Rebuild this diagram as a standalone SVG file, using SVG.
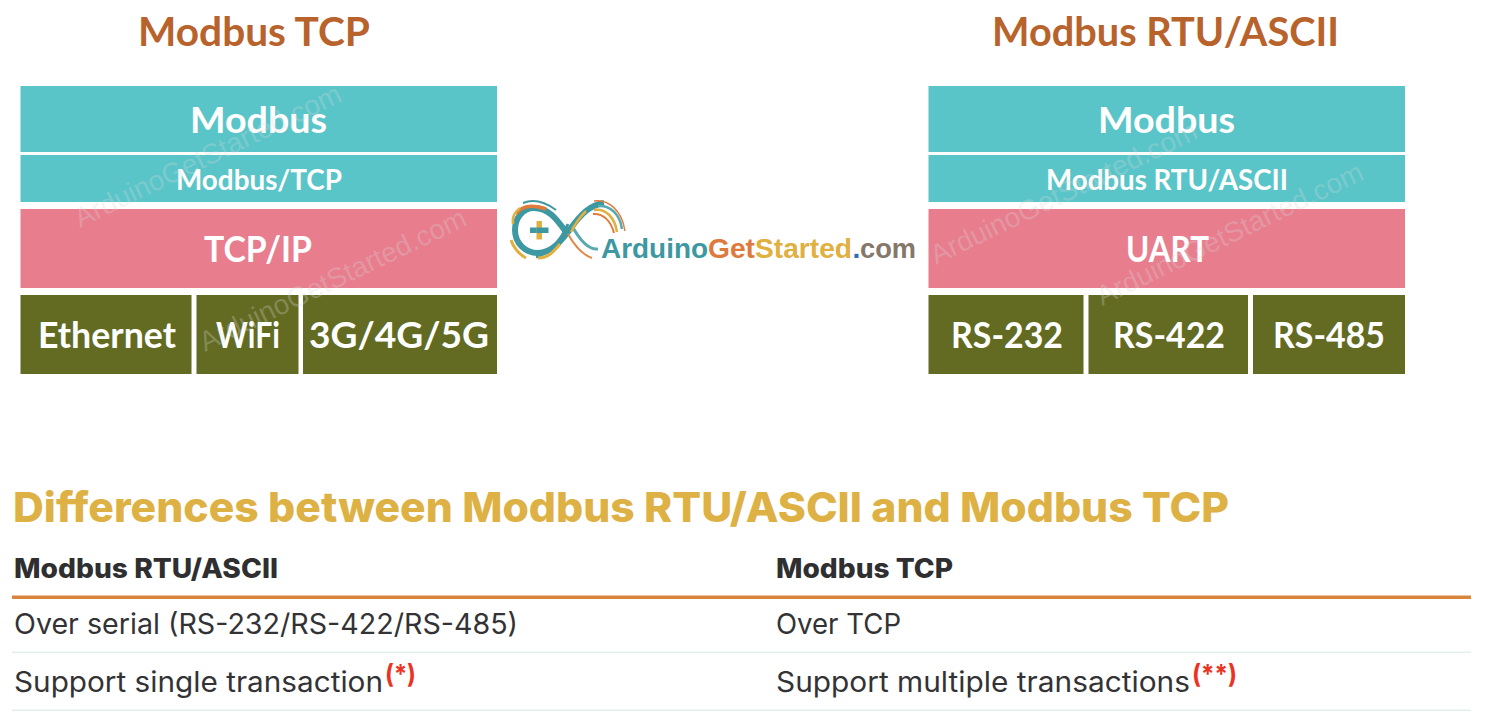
<svg xmlns="http://www.w3.org/2000/svg" width="1490" height="720" viewBox="0 0 1490 720">
<style>
.teal{fill:#5ac5c9}.pink{fill:#e87d8e}.olive{fill:#636b22}
.box{font-family:"Lato","Liberation Sans",sans-serif;font-weight:700;fill:#fff}
.title{font-family:"Lato","Liberation Sans",sans-serif;font-weight:700;fill:#b8622c;font-size:40px}
.wm{font-family:"Liberation Sans",Arial,sans-serif;font-size:28px;fill:#d9d9d9;fill-opacity:.28}
.page{font-family:"Inter","Liberation Sans",sans-serif;fill:#333336;font-size:28px;font-weight:400}
.th{font-weight:800;font-size:27px;fill:#2f2f31}
.h{font-weight:800;font-size:41px;fill:#deb144}
.sup{font-weight:700;font-size:26px;fill:#ec3323}
.logo{font-family:"Liberation Sans",Arial,sans-serif;font-weight:700;font-size:28px}
.arc{fill:none;stroke-linecap:butt}
</style>
<rect width="1490" height="720" fill="#fff"/>
<g id="title-tcp"><text class="title" x="138" y="46" textLength="232" lengthAdjust="spacingAndGlyphs">Modbus TCP</text></g>
<g id="title-rtu"><text class="title" x="992" y="46" textLength="347" lengthAdjust="spacingAndGlyphs">Modbus RTU/ASCII</text></g>

<g id="tcp-modbus"><rect class="teal" x="20.5" y="86" width="476.5" height="66"/><text class="box" font-size="36" x="190" y="133" textLength="137" lengthAdjust="spacingAndGlyphs">Modbus</text></g>
<g id="tcp-modbus-tcp"><rect class="teal" x="20.5" y="155" width="476.5" height="47"/><text class="box" font-size="28" x="176" y="190" textLength="166" lengthAdjust="spacingAndGlyphs">Modbus/TCP</text></g>
<g id="tcp-ip"><rect class="pink" x="20.5" y="209" width="476.5" height="79"/><text class="box" font-size="36" x="204" y="262" textLength="108" lengthAdjust="spacingAndGlyphs">TCP/IP</text></g>
<g id="tcp-ethernet"><rect class="olive" x="20.5" y="295" width="171" height="79"/><text class="box" font-size="36" x="38" y="348" textLength="138" lengthAdjust="spacingAndGlyphs">Ethernet</text></g>
<g id="tcp-wifi"><rect class="olive" x="196.5" y="295" width="102" height="79"/><text class="box" font-size="36" x="216" y="348" textLength="64" lengthAdjust="spacingAndGlyphs">WiFi</text></g>
<g id="tcp-3g"><rect class="olive" x="303" y="295" width="194" height="79"/><text class="box" font-size="36" x="309" y="348" textLength="180" lengthAdjust="spacingAndGlyphs">3G/4G/5G</text></g>

<g id="rtu-modbus"><rect class="teal" x="928.5" y="86" width="476.5" height="66"/><text class="box" font-size="36" x="1098" y="133" textLength="137" lengthAdjust="spacingAndGlyphs">Modbus</text></g>
<g id="rtu-modbus-rtu"><rect class="teal" x="928.5" y="155" width="476.5" height="47"/><text class="box" font-size="28" x="1046" y="190" textLength="242" lengthAdjust="spacingAndGlyphs">Modbus RTU/ASCII</text></g>
<g id="rtu-uart"><rect class="pink" x="928.5" y="209" width="476.5" height="79"/><text class="box" font-size="36" x="1126" y="262" textLength="83" lengthAdjust="spacingAndGlyphs">UART</text></g>
<g id="rtu-232"><rect class="olive" x="928.5" y="295" width="155" height="79"/><text class="box" font-size="36" x="951" y="348" textLength="112" lengthAdjust="spacingAndGlyphs">RS-232</text></g>
<g id="rtu-422"><rect class="olive" x="1088.5" y="295" width="159.5" height="79"/><text class="box" font-size="36" x="1113" y="348" textLength="112" lengthAdjust="spacingAndGlyphs">RS-422</text></g>
<g id="rtu-485"><rect class="olive" x="1253" y="295" width="152" height="79"/><text class="box" font-size="36" x="1273" y="348" textLength="112" lengthAdjust="spacingAndGlyphs">RS-485</text></g>

<g id="watermarks">
<text class="wm" transform="translate(80 228) rotate(-25.8)">ArduinoGetStarted.com</text>
<text class="wm" transform="translate(205 352) rotate(-25.8)">ArduinoGetStarted.com</text>
<text class="wm" transform="translate(936 265) rotate(-25.8)">ArduinoGetStarted.com</text>
<text class="wm" transform="translate(1102 306) rotate(-25.8)">ArduinoGetStarted.com</text>
</g>

<g id="logo">
<g class="arc">
<path d="M566 232C556 218 548 208 534 208C522 208 515 219 515 230C515 243 525 253 538 253C552 253 561 241 571 228C581 214 590 205 604 203" stroke="#3d98a1" stroke-width="6"/>
<path d="M568 224C561 240 552 252 536 257" stroke="#3d98a1" stroke-width="3"/>
<path d="M572 226C582 244 590 250 598 249" stroke="#5aa9b0" stroke-width="3"/>
<path d="M568 234C577 250 586 256 592 258" stroke="#e08a4c" stroke-width="2"/>
<path d="M516 214C522 205 534 205 546 209" stroke="#e07b39" stroke-width="3.500"/>
<path d="M523 203C533 199 545 202 556 210" stroke="#3d98a1" stroke-width="2"/>
<path d="M513 224C512 216 515 212 520 208" stroke="#e0b040" stroke-width="2.500"/>
<path d="M511 240C514 249 519 254 526 258" stroke="#e0b040" stroke-width="3"/>
<path d="M538 258C549 258 555 250 560 244" stroke="#e0b040" stroke-width="3"/>
<path d="M571 232C576 222 581 216 586 211" stroke="#e0b040" stroke-width="2.500"/>
<path d="M594 201C608 199 622 210 625 231" stroke="#e07b39" stroke-width="1.400"/>
<path d="M598 206C610 205 620 214 622 229" stroke="#5aa9b0" stroke-width="2.500"/>
<path d="M594 210C606 208 615 218 617 232" stroke="#e0b040" stroke-width="2.500"/>
<path d="M593 214C603 213 611 221 614 233" stroke="#e07b39" stroke-width="2"/>
</g>
<rect x="530" y="227.500" width="18.500" height="5.500" fill="#3d98a1"/>
<rect x="536.500" y="221" width="5.500" height="18.500" fill="#e0b040"/>
<rect x="536.500" y="227.500" width="5.500" height="5.500" fill="#3d98a1"/>
<text class="logo" x="601" y="258" fill="#3d98a1" textLength="107" lengthAdjust="spacingAndGlyphs">Arduino</text>
<text class="logo" x="708" y="258" fill="#dd7a3d" textLength="47" lengthAdjust="spacingAndGlyphs">Get</text>
<text class="logo" x="755" y="258" fill="#e0b040" textLength="97" lengthAdjust="spacingAndGlyphs">Started</text>
<text class="logo" x="852.500" y="258" fill="#2f6fb5">.</text>
<text class="logo" x="860" y="258" fill="#85786b" textLength="56" lengthAdjust="spacingAndGlyphs">com</text>
</g>

<g id="table">
<text class="page h" x="13" y="522" textLength="1216" lengthAdjust="spacingAndGlyphs">Differences between Modbus RTU/ASCII and Modbus TCP</text>
<text class="page th" x="14" y="578" textLength="264" lengthAdjust="spacingAndGlyphs">Modbus RTU/ASCII</text>
<text class="page th" x="776" y="578" textLength="177" lengthAdjust="spacingAndGlyphs">Modbus TCP</text>
<rect x="12" y="595.500" width="1459" height="3.500" fill="#d8853d"/>
<text class="page" x="14" y="634" textLength="504" lengthAdjust="spacingAndGlyphs">Over serial (RS-232/RS-422/RS-485)</text>
<text class="page" x="776" y="634" textLength="125" lengthAdjust="spacingAndGlyphs">Over TCP</text>
<rect x="12" y="651.500" width="1459" height="1.500" fill="#e3eeee"/>
<text class="page" x="14" y="692" textLength="369" lengthAdjust="spacingAndGlyphs">Support single transaction</text>
<text class="page sup" x="385" y="683" textLength="31" lengthAdjust="spacingAndGlyphs">(*)</text>
<text class="page" x="776" y="692" textLength="414" lengthAdjust="spacingAndGlyphs">Support multiple transactions</text>
<text class="page sup" x="1192" y="683" textLength="45" lengthAdjust="spacingAndGlyphs">(**)</text>
<rect x="12" y="709.500" width="1459" height="1.500" fill="#e3eeee"/>
</g>
</svg>
